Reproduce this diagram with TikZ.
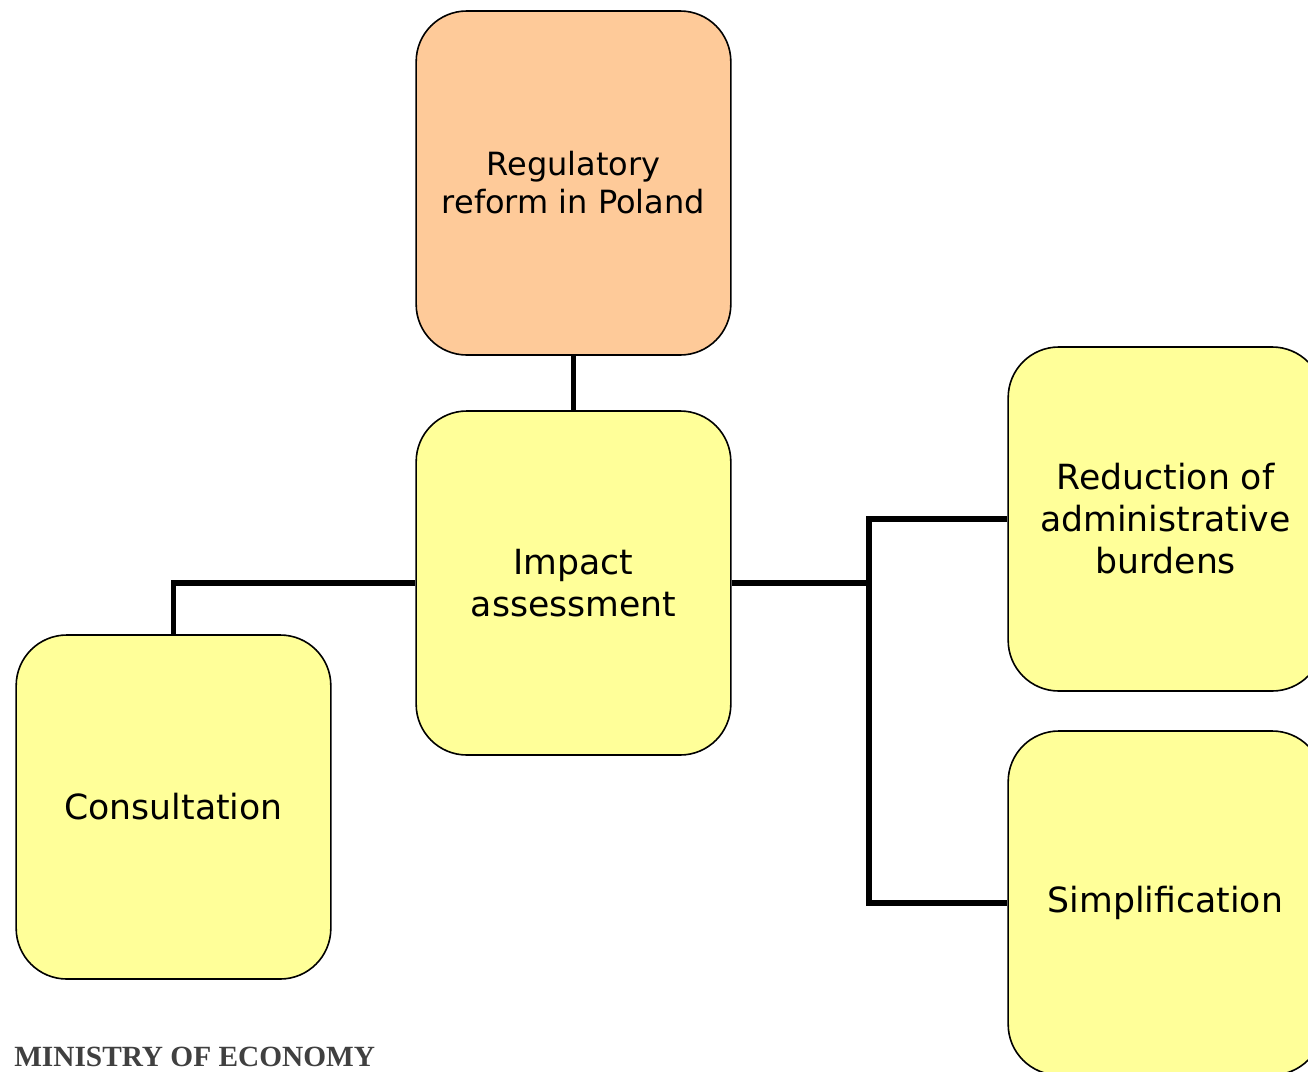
\documentclass[tikz,border=0pt]{standalone}
\usepackage{fontspec}
\setmainfont{DejaVu Sans}
\newfontfamily\ministryfont{Liberation Serif}
\definecolor{boxorange}{HTML}{FECA99}
\definecolor{boxyellow}{HTML}{FFFF99}
\definecolor{ministrygrey}{HTML}{404040}
\tikzset{
	topicbox/.style={draw=black, line width=1.2pt, rounded corners=38pt, fill=boxyellow,
		minimum width=236pt, minimum height=258pt, align=center, font=\fontsize{26}{31.5}\selectfont},
	link/.style={line width=4pt, line join=miter}
}
\begin{document}
\begin{tikzpicture}[x=0.75pt,y=-0.75pt]
			\useasboundingbox (0,0) rectangle (1308,1071);
			\clip (0,0) rectangle (1308,1071);
			\node[topicbox, fill=boxorange, font=\fontsize{24}{28.5}\selectfont] (reg) at (573.5,183) {Regulatory\\reform in Poland};
			\node[topicbox] (imp) at (573.5,583) {Impact\\assessment};
			\node[topicbox] (cons) at (173.5,807) {Consultation};
			\node[topicbox] (red) at (1165.5,519) {Reduction of\\administrative\\burdens};
			\node[topicbox] (simp) at (1165.5,903) {Simplification};
			\coordinate (fork) at (869,583);
			\draw [link] (reg) -- (imp);
			\draw [link] (imp.west) -| (cons.north);
			\draw [link] (imp.east) -- (fork);
			\draw [link] (red.west) -| (fork) |- (simp.west);
			\node[anchor=base west, inner sep=0pt, text=ministrygrey, font=\ministryfont\bfseries\fontsize{22}{26}\selectfont] (ministry) at (14,1066) {MINISTRY OF ECONOMY};
			\end{tikzpicture}
\end{document}
